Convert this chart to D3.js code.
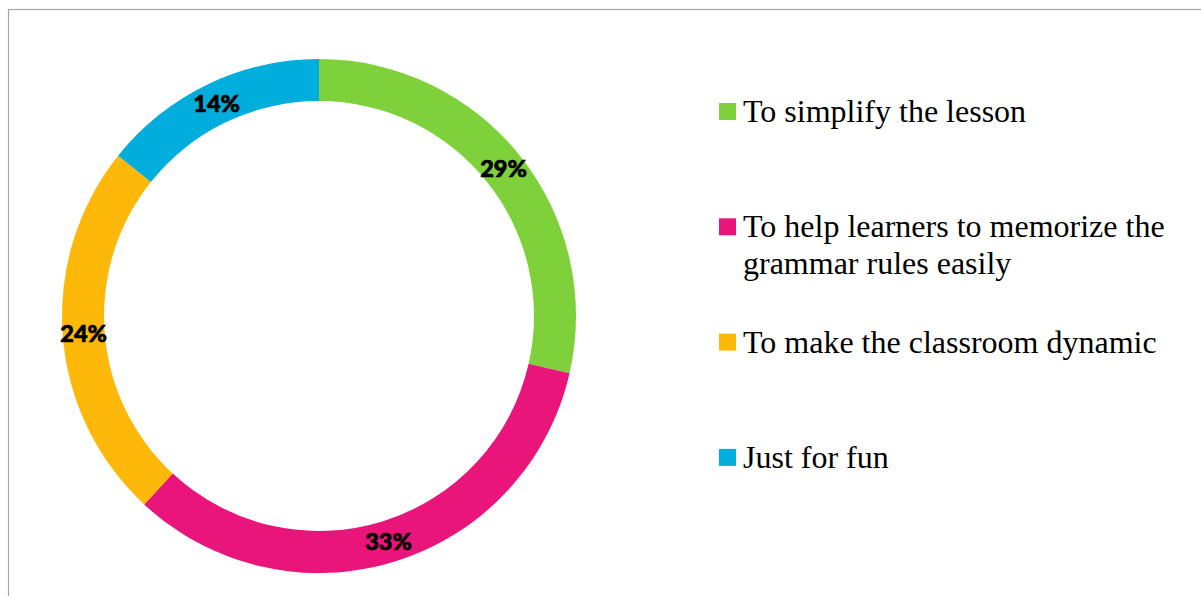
<!DOCTYPE html>
<html>
<head>
<meta charset="utf-8">
<script src="https://cdn.jsdelivr.net/npm/d3@7"></script>
<style>
  html, body { margin: 0; padding: 0; background: #fff; }
  svg { display: block; }
</style>
</head>
<body>
<div id="chart"></div>
<script>
// answers (counts out of 42 respondents)
const categories = [
  "To simplify the lesson",
  "To help learners to memorize the grammar rules easily",
  "To make the classroom dynamic",
  "Just for fun"
];
const counts = [12, 14, 10, 6];
const colors = ["#7fd13b", "#ea157a", "#feb80a", "#00addc"];

function drawChart() {
  const width = 1201;
  const height = 596;

  const svg = d3.select("#chart").append("svg")
      .attr("width", width)
      .attr("height", height);

  // chart frame, only top/left edge visible
  svg.append("rect")
      .attr("x", 8.5)
      .attr("y", 9.5)
      .attr("width", width + 20)
      .attr("height", height + 20)
      .attr("fill", "none")
      .attr("stroke", "#a6a6a6")
      .attr("stroke-width", 1.2);

  const cx = 319, cy = 316;
  const outerR = 257, innerR = 215;

  const pie = d3.pie().sort(null).value(d => d.value);
  const arcs = pie(categories.map((c, i) => ({ name: c, value: counts[i], color: colors[i] })));
  const arc = d3.arc().innerRadius(innerR).outerRadius(outerR);
  const total = d3.sum(counts);
  const pct = d3.format(".0%");

  const g = svg.append("g").attr("transform", `translate(${cx},${cy})`);

  g.selectAll("path")
    .data(arcs)
    .join("path")
      .attr("d", arc)
      .attr("fill", d => d.data.color);

  g.selectAll("text")
    .data(arcs)
    .join("text")
      .attr("transform", d => `translate(${arc.centroid(d)})`)
      .attr("text-anchor", "middle")
      .attr("dy", "0.36em")
      .style("font", "900 23.5px Lato, 'Open Sans', sans-serif")
      .attr("fill", "#000")
      .attr("stroke", "#000")
      .attr("stroke-width", 0.7)
      .text(d => pct(d.data.value / total));

  // legend
  const legendX = 719;
  const firstBaseline = 122;
  const step = 115.3;
  const maxWidth = 440;
  const lineHeight = 37;

  const legend = svg.append("g");
  categories.forEach((name, i) => {
    const base = firstBaseline + i * step;
    legend.append("rect")
        .attr("x", legendX)
        .attr("y", base - 19)
        .attr("width", 17)
        .attr("height", 17)
        .attr("fill", colors[i]);

    const text = legend.append("text")
        .attr("x", legendX + 24)
        .attr("y", base)
        .style("font", "32px 'Liberation Serif', 'Times New Roman', serif")
        .attr("fill", "#000");

    // simple word wrap
    const words = name.split(" ");
    let line = [];
    let tspan = text.append("tspan").attr("x", legendX + 24).attr("y", base);
    let lineNo = 0;
    words.forEach(w => {
      line.push(w);
      tspan.text(line.join(" "));
      if (tspan.node().getComputedTextLength() > maxWidth && line.length > 1) {
        line.pop();
        tspan.text(line.join(" "));
        line = [w];
        lineNo++;
        tspan = text.append("tspan")
            .attr("x", legendX + 24)
            .attr("y", base + lineNo * lineHeight)
            .text(w);
      }
    });
  });
}

drawChart();
</script>
</body>
</html>
